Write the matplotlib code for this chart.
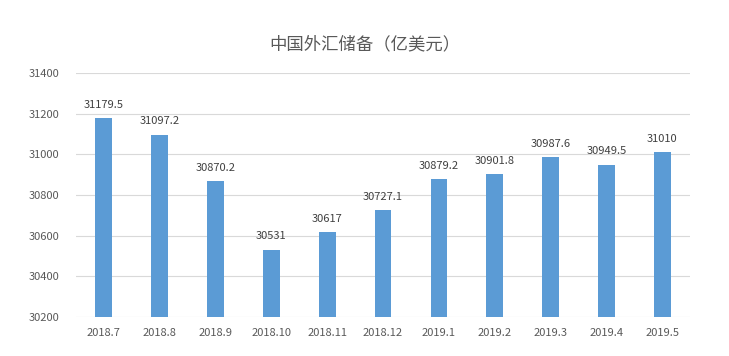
import matplotlib
matplotlib.use("Agg")
import matplotlib.pyplot as plt

plt.rcParams['font.family'] = ['Noto Sans CJK SC', 'DejaVu Sans']

months = ["2018.7", "2018.8", "2018.9", "2018.10", "2018.11", "2018.12",
          "2019.1", "2019.2", "2019.3", "2019.4", "2019.5"]
reserves = [31179.5, 31097.2, 30870.2, 30531, 30617, 30727.1,
            30879.2, 30901.8, 30987.6, 30949.5, 31010]
labels = ["31179.5", "31097.2", "30870.2", "30531", "30617", "30727.1",
          "30879.2", "30901.8", "30987.6", "30949.5", "31010"]

fig = plt.figure(figsize=(7.29, 3.56), dpi=100)
ax = fig.add_axes([0.104, 0.110, 0.843, 0.685])

x = list(range(len(months)))
ax.bar(x, [r - 30200 for r in reserves], bottom=30200, width=0.3,
       color="#5B9BD5", zorder=3)
for xi, r, lab in zip(x, reserves, labels):
    ax.text(xi, r + 40, lab, ha="center", va="bottom", fontsize=8,
            color="#404040")

ax.set_ylim(30200, 31400)
ax.set_xlim(-0.5, len(months) - 0.5)
ax.set_yticks(range(30200, 31401, 200))
ax.set_xticks(x)
ax.set_xticklabels(months)
ax.tick_params(length=0, labelsize=8, colors="#595959", pad=8)
ax.tick_params(axis="y", pad=12)
ax.grid(axis="y", color="#D9D9D9", linewidth=0.8, zorder=0)
for s in ax.spines.values():
    s.set_visible(False)

fig.suptitle("中国外汇储备（亿美元）", x=0.5, y=0.9, fontsize=12.5,
             color="#595959")

fig.savefig("out.png", dpi=100)
